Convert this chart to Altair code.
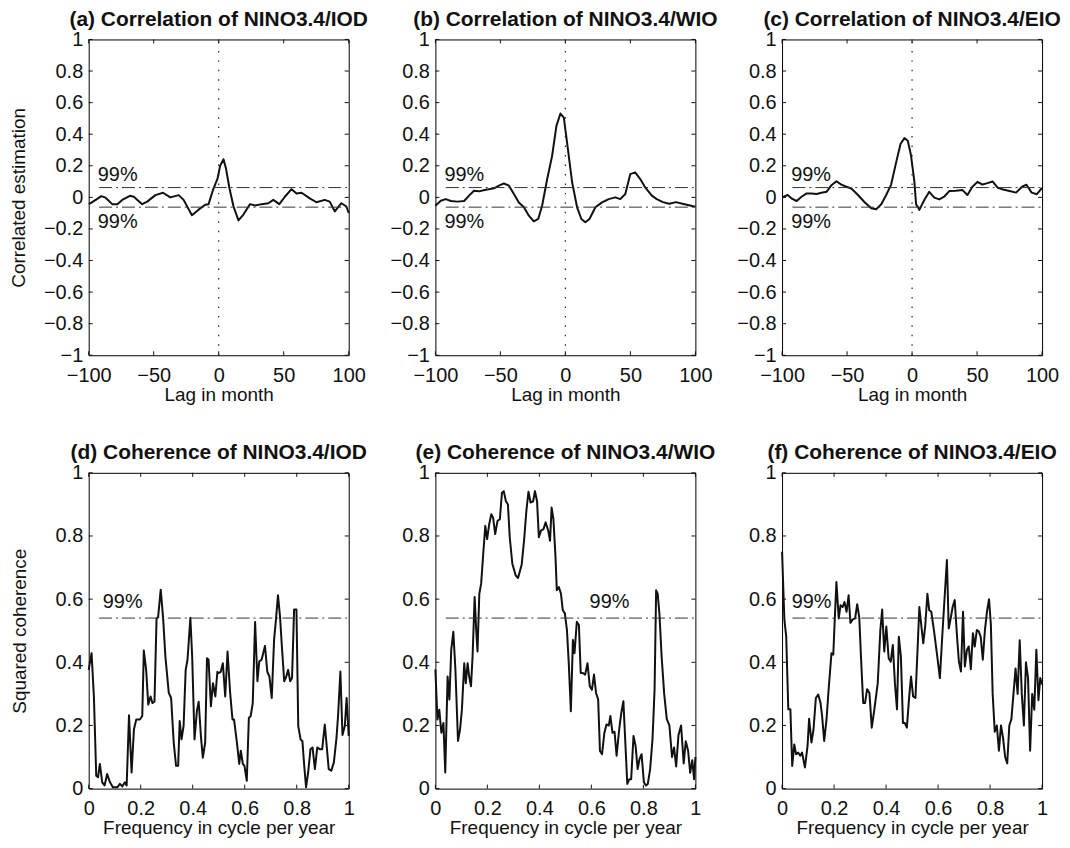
import altair as alt
import pandas as pd

# ---------------- data ----------------
lag_a = [-100, -98.5, -94.6, -90.3, -87, -81.9, -78, -74.2, -68.3, -65.3,
         -58.9, -55, -48.7, -42.8, -37.2, -30.8, -27, -20.6, -15.5, -10.4,
         -7.8, -4, -0.9, 1.1, 3.7, 5.7, 8.3, 11.4, 15.2, 19,
         24.1, 28, 33.1, 38.2, 42, 46.6, 50.9, 56, 59.9, 63.7,
         70.1, 75.2, 81.6, 85.4, 89.3, 94.4, 98.2, 100]
corr_a = [-0.04, -0.037, -0.016, 0.008, -0.002, -0.043, -0.043, -0.016, 0.01, 0.004,
          -0.043, -0.027, 0.014, 0.029, 0, 0.014, -0.016, -0.113, -0.078, -0.047,
          -0.043, 0.056, 0.118, 0.2, 0.241, 0.179, 0.056, -0.058, -0.146, -0.109,
          -0.043, -0.052, -0.043, -0.037, -0.016, -0.043, 0.004, 0.052, 0.025, 0.029,
          -0.006, -0.031, -0.016, -0.027, -0.089, -0.037, -0.058, -0.099]

lag_b = [-100, -95.8, -92, -88.1, -83, -77.9, -74.1, -70.3, -66.4, -61.3,
         -54.9, -51.1, -47.3, -43.4, -39.6, -35.8, -31.9, -28.1, -24.3, -20.9,
         -17.9, -14, -10.2, -6.9, -3.8, -1.2, 1.3, 5.2, 9, 12.3,
         15.4, 18.5, 23.1, 28.2, 33.3, 38.4, 42.2, 46.1, 49.9, 53.7,
         57.6, 61.4, 66.5, 70.3, 75, 80, 85, 90, 95, 100]
corr_b = [-0.053, -0.021, -0.011, -0.023, -0.027, -0.023, 0.011, 0.042, 0.038, 0.048,
          0.057, 0.074, 0.088, 0.074, 0.021, -0.032, -0.063, -0.116, -0.152, -0.137,
          -0.053, 0.116, 0.263, 0.453, 0.531, 0.505, 0.347, 0.095, -0.063, -0.137,
          -0.158, -0.137, -0.063, -0.032, -0.011, 0, -0.011, 0.021, 0.147, 0.158,
          0.116, 0.063, 0.011, -0.011, -0.03, -0.04, -0.03, -0.04, -0.05, -0.06]

lag_c = [-100, -95.7, -92.1, -88.8, -85, -81.1, -77.3, -73.5, -69.7, -65.8,
         -62, -58.2, -54.4, -50.5, -46.7, -41.6, -36.5, -31.4, -27.6, -23.7,
         -19.9, -16.1, -12.2, -8.9, -5.9, -3.3, -0.8, 1.8, 3.1, 5.6,
         9.4, 13.2, 17.1, 20.9, 24.7, 28.6, 33.7, 38.8, 42.6, 46.4,
         50.3, 54.1, 58, 62, 66, 70, 75, 80, 85, 88,
         92, 96, 100]
corr_c = [0.0, 0.015, -0.01, -0.023, 0.004, 0.025, 0.025, 0.021, 0.029, 0.035,
          0.077, 0.102, 0.081, 0.067, 0.056, 0.015, -0.031, -0.069, -0.075, -0.044,
          0.015, 0.081, 0.223, 0.338, 0.375, 0.358, 0.265, 0.098, -0.044, -0.079,
          -0.017, 0.035, -0.002, -0.013, 0.004, 0.04, 0.042, 0.046, 0.015, 0.067,
          0.098, 0.081, 0.09, 0.1, 0.06, 0.05, 0.04, 0.03, 0.07, 0.08,
          0.03, 0.02, 0.06]

freq_d = [0.0, 0.011, 0.020, 0.029, 0.036, 0.043, 0.052, 0.061, 0.071, 0.082,
          0.093, 0.110, 0.120, 0.129, 0.139, 0.146, 0.155, 0.165, 0.174, 0.183,
          0.197, 0.206, 0.212, 0.221, 0.229, 0.238, 0.245, 0.253, 0.261, 0.267,
          0.277, 0.286, 0.295, 0.308, 0.317, 0.327, 0.336, 0.344, 0.350, 0.357,
          0.365, 0.373, 0.380, 0.391, 0.398, 0.407, 0.416, 0.423, 0.432, 0.439,
          0.448, 0.455, 0.461, 0.470, 0.478, 0.487, 0.495, 0.499, 0.508, 0.516,
          0.525, 0.534, 0.544, 0.553, 0.559, 0.570, 0.579, 0.585, 0.593, 0.599,
          0.608, 0.616, 0.623, 0.631, 0.640, 0.649, 0.656, 0.665, 0.678, 0.687,
          0.695, 0.704, 0.713, 0.720, 0.728, 0.736, 0.743, 0.752, 0.760, 0.767,
          0.775, 0.782, 0.790, 0.799, 0.806, 0.815, 0.822, 0.829, 0.836, 0.844,
          0.853, 0.861, 0.870, 0.879, 0.889, 0.898, 0.908, 0.917, 0.923, 0.933,
          0.943, 0.953, 0.959, 0.968, 0.976, 0.985, 0.992, 1.0]
coh_d = [0.376, 0.429, 0.292, 0.041, 0.036, 0.078, 0.020, 0.010, 0.046, 0.020,
         0.004, 0.004, 0.015, 0.007, 0.020, 0.010, 0.232, 0.051, 0.188, 0.219,
         0.219, 0.230, 0.437, 0.376, 0.266, 0.292, 0.271, 0.275, 0.539, 0.543,
         0.630, 0.543, 0.418, 0.303, 0.287, 0.146, 0.072, 0.072, 0.214, 0.156,
         0.199, 0.376, 0.408, 0.541, 0.418, 0.156, 0.245, 0.275, 0.161, 0.098,
         0.146, 0.413, 0.408, 0.261, 0.334, 0.292, 0.37, 0.366, 0.37, 0.397,
         0.292, 0.434, 0.303, 0.219, 0.219, 0.146, 0.078, 0.12, 0.078, 0.072,
         0.025, 0.224, 0.230, 0.271, 0.528, 0.34, 0.403, 0.408, 0.452, 0.37,
         0.355, 0.287, 0.471, 0.534, 0.612, 0.543, 0.45, 0.34, 0.355, 0.376,
         0.34, 0.35, 0.567, 0.567, 0.198, 0.156, 0.150, 0.072, 0.004, 0.051,
         0.125, 0.130, 0.062, 0.13, 0.125, 0.125, 0.203, 0.12, 0.062, 0.057,
         0.083, 0.161, 0.23, 0.371, 0.17, 0.198, 0.287, 0.167]

freq_e = [0.0, 0.008, 0.015, 0.023, 0.031, 0.038, 0.047, 0.054, 0.061, 0.069,
          0.077, 0.087, 0.095, 0.102, 0.111, 0.117, 0.124, 0.130, 0.137, 0.143,
          0.151, 0.157, 0.162, 0.169, 0.176, 0.184, 0.192, 0.199, 0.207, 0.215,
          0.222, 0.230, 0.239, 0.248, 0.256, 0.263, 0.271, 0.279, 0.286, 0.296,
          0.309, 0.318, 0.332, 0.341, 0.350, 0.358, 0.366, 0.376, 0.383, 0.391,
          0.398, 0.406, 0.416, 0.424, 0.434, 0.441, 0.447, 0.454, 0.462, 0.467,
          0.475, 0.483, 0.490, 0.498, 0.506, 0.513, 0.521, 0.529, 0.535, 0.544,
          0.552, 0.559, 0.567, 0.576, 0.585, 0.594, 0.602, 0.610, 0.618, 0.626,
          0.633, 0.641, 0.650, 0.658, 0.667, 0.673, 0.681, 0.689, 0.697, 0.707,
          0.715, 0.723, 0.730, 0.738, 0.746, 0.753, 0.762, 0.770, 0.778, 0.785,
          0.793, 0.802, 0.810, 0.817, 0.826, 0.835, 0.843, 0.849, 0.855, 0.862,
          0.870, 0.880, 0.890, 0.900, 0.910, 0.918, 0.926, 0.935, 0.945, 0.955,
          0.963, 0.972, 0.980, 0.988, 0.995, 1.0]
coh_e = [0.377, 0.219, 0.25, 0.177, 0.208, 0.051, 0.355, 0.282, 0.439, 0.497,
         0.377, 0.151, 0.188, 0.25, 0.397, 0.334, 0.397, 0.355, 0.324, 0.418,
         0.607, 0.502, 0.434, 0.617, 0.649, 0.743, 0.832, 0.790, 0.837, 0.869,
         0.858, 0.806, 0.848, 0.853, 0.937, 0.942, 0.911, 0.90, 0.796, 0.712,
         0.675, 0.667, 0.71, 0.785, 0.88, 0.94, 0.906, 0.91, 0.942, 0.91,
         0.796, 0.817, 0.822, 0.843, 0.817, 0.785, 0.89, 0.853, 0.733, 0.628,
         0.638, 0.617, 0.565, 0.555, 0.502, 0.397, 0.245, 0.471, 0.429, 0.528,
         0.518, 0.366, 0.366, 0.361, 0.397, 0.324, 0.313, 0.361, 0.303, 0.282,
         0.119, 0.109, 0.177, 0.203, 0.2, 0.23, 0.177, 0.18, 0.104, 0.188,
         0.24, 0.277, 0.156, 0.015, 0.03, 0.03, 0.167, 0.135, 0.062, 0.093,
         0.109, 0.02, 0.01, 0.015, 0.062, 0.156, 0.313, 0.628, 0.617, 0.55,
         0.42, 0.30, 0.22, 0.2, 0.1, 0.13, 0.07, 0.17, 0.2, 0.08,
         0.15, 0.12, 0.05, 0.09, 0.03, 0.1]

freq_f = [0.0, 0.009, 0.016, 0.024, 0.032, 0.039, 0.047, 0.054, 0.062, 0.070,
          0.077, 0.088, 0.098, 0.104, 0.113, 0.121, 0.130, 0.139, 0.148, 0.154,
          0.162, 0.171, 0.179, 0.190, 0.197, 0.202, 0.209, 0.218, 0.225, 0.233,
          0.240, 0.248, 0.256, 0.263, 0.272, 0.281, 0.289, 0.297, 0.304, 0.312,
          0.319, 0.327, 0.336, 0.345, 0.355, 0.368, 0.378, 0.385, 0.393, 0.401,
          0.410, 0.418, 0.426, 0.434, 0.442, 0.449, 0.457, 0.465, 0.472, 0.480,
          0.489, 0.496, 0.504, 0.513, 0.521, 0.528, 0.536, 0.543, 0.551, 0.559,
          0.566, 0.574, 0.584, 0.597, 0.607, 0.616, 0.626, 0.634, 0.641, 0.649,
          0.656, 0.664, 0.673, 0.680, 0.688, 0.696, 0.703, 0.711, 0.718, 0.726,
          0.734, 0.741, 0.749, 0.757, 0.764, 0.772, 0.780, 0.788, 0.796, 0.803,
          0.810, 0.818, 0.826, 0.834, 0.842, 0.850, 0.858, 0.866, 0.874, 0.882,
          0.890, 0.898, 0.906, 0.914, 0.922, 0.930, 0.938, 0.946, 0.954, 0.962,
          0.970, 0.978, 0.986, 0.993, 1.0]
coh_f = [0.75, 0.534, 0.481, 0.251, 0.251, 0.072, 0.140, 0.109, 0.114, 0.104,
         0.114, 0.067, 0.135, 0.221, 0.146, 0.188, 0.287, 0.298, 0.271, 0.23,
         0.151, 0.219, 0.313, 0.429, 0.424, 0.523, 0.654, 0.539, 0.581, 0.575,
         0.591, 0.560, 0.612, 0.525, 0.536, 0.539, 0.584, 0.541, 0.408, 0.271,
         0.271, 0.315, 0.303, 0.193, 0.251, 0.334, 0.502, 0.567, 0.434, 0.513,
         0.413, 0.402, 0.455, 0.334, 0.251, 0.481, 0.418, 0.208, 0.208, 0.193,
         0.292, 0.355, 0.292, 0.287, 0.439, 0.575, 0.513, 0.46, 0.518, 0.617,
         0.565, 0.56, 0.502, 0.418, 0.35, 0.481, 0.617, 0.724, 0.507, 0.541,
         0.575, 0.597, 0.481, 0.403, 0.371, 0.56, 0.387, 0.439, 0.45, 0.378,
         0.492, 0.45, 0.502, 0.497, 0.481, 0.408, 0.5, 0.56, 0.6, 0.52,
         0.3, 0.18, 0.2, 0.12, 0.2, 0.16, 0.1, 0.08, 0.2, 0.22,
         0.3, 0.38, 0.3, 0.47, 0.3, 0.2, 0.4, 0.35, 0.12, 0.3,
         0.25, 0.44, 0.28, 0.35, 0.33]

lag_ticks = [-100, -50, 0, 50, 100]
corr_ticks = [-1, -0.8, -0.6, -0.4, -0.2, 0, 0.2, 0.4, 0.6, 0.8, 1]
freq_ticks = [0, 0.2, 0.4, 0.6, 0.8, 1]
coh_ticks = [0, 0.2, 0.4, 0.6, 0.8, 1]

corr_sig = [0.062, -0.062]       # 99% significance of correlation
corr_sig_span = [-92, 100]
coh_sig = [0.54]                 # 99% significance of squared coherence
coh_sig_span = [0.04, 1]

corr_label_y = [0.14, -0.155]
corr_label_x = [-93, -93]
coh_label_x = {"d": 0.054, "e": 0.593, "f": 0.037}
coh_label_y = 0.59

titles = {
    "a": "(a) Correlation of NINO3.4/IOD",
    "b": "(b) Correlation of NINO3.4/WIO",
    "c": "(c) Correlation of NINO3.4/EIO",
    "d": "(d) Coherence of NINO3.4/IOD",
    "e": "(e) Coherence of NINO3.4/WIO",
    "f": "(f) Coherence of NINO3.4/EIO",
}

# ---------------- styling ----------------
W, H = 261, 317
FONT = "Liberation Sans"
INK = "#111111"
TICK = 4


def panel(xv, yv, xdom, xticks, ydom, yticks, title, xtitle, ytitle, ytitle_pad,
          sig_vals, sig_span, lab_x, lab_y, vline):
    xs = alt.Scale(domain=xdom, nice=False, zero=False)
    ys = alt.Scale(domain=ydom, nice=False, zero=False)
    xaxis = alt.Axis(values=xticks, format="~r", title=xtitle, ticks=False,
                     domain=False, grid=False, labelFlush=False, labelOverlap=False,
                     labelPadding=10, titlePadding=0, labelFont=FONT, labelFontSize=20,
                     labelColor=INK, titleFont=FONT, titleFontSize=19,
                     titleFontWeight="normal", titleColor=INK)
    yaxis = alt.Axis(values=yticks, format="~r", title=ytitle, ticks=False,
                     domain=False, grid=False, labelFlush=False, labelOverlap=False,
                     labelPadding=6, titlePadding=ytitle_pad, labelFont=FONT,
                     labelFontSize=20, labelColor=INK, titleFont=FONT, titleFontSize=19,
                     titleFontWeight="normal", titleColor=INK)
    X = dict(scale=xs, axis=xaxis)
    Y = dict(scale=ys, axis=yaxis)

    line = alt.Chart(pd.DataFrame({"x": xv, "y": yv})).mark_line(
        color=INK, strokeWidth=2, strokeJoin="round"
    ).encode(x=alt.X("x:Q", **X), y=alt.Y("y:Q", **Y))

    sig_df = pd.DataFrame({"x": [sig_span[0]] * len(sig_vals),
                           "x2": [sig_span[1]] * len(sig_vals), "y": sig_vals})
    sig = alt.Chart(sig_df).mark_rule(color="#333333", strokeWidth=1,
                                      strokeDash=[13, 4, 2, 4]).encode(
        x=alt.X("x:Q", **X), x2="x2:Q", y=alt.Y("y:Q", **Y))

    lab_df = pd.DataFrame({"x": lab_x, "y": lab_y, "t": ["99%"] * len(lab_x)})
    labels = alt.Chart(lab_df).mark_text(align="left", baseline="middle", font=FONT,
                                         fontSize=20, color=INK).encode(
        x=alt.X("x:Q", **X), y=alt.Y("y:Q", **Y), text="t:N")

    xt = pd.DataFrame({"x": xticks})
    yt = pd.DataFrame({"y": yticks})
    tick_b = alt.Chart(xt).mark_rule(color=INK, strokeWidth=1).encode(
        x=alt.X("x:Q", **X), y=alt.value(H), y2=alt.value(H - TICK))
    tick_t = alt.Chart(xt).mark_rule(color=INK, strokeWidth=1).encode(
        x=alt.X("x:Q", **X), y=alt.value(0), y2=alt.value(TICK))
    tick_l = alt.Chart(yt).mark_rule(color=INK, strokeWidth=1).encode(
        y=alt.Y("y:Q", **Y), x=alt.value(0), x2=alt.value(TICK))
    tick_r = alt.Chart(yt).mark_rule(color=INK, strokeWidth=1).encode(
        y=alt.Y("y:Q", **Y), x=alt.value(W), x2=alt.value(W - TICK))

    layers = [line, sig]
    if vline:
        vdf = pd.DataFrame({"x": [0], "y": [ydom[0]], "y2": [ydom[1]]})
        layers.append(alt.Chart(vdf).mark_rule(color="#222222", strokeWidth=1.2,
                                               strokeDash=[1.5, 8]).encode(
            x=alt.X("x:Q", **X), y=alt.Y("y:Q", **Y), y2="y2:Q"))
    layers += [tick_b, tick_t, tick_l, tick_r, labels]

    return alt.layer(*layers).properties(
        width=W, height=H,
        title=alt.TitleParams(text=title, font=FONT, fontSize=21, fontWeight="bold",
                              color=INK, anchor="middle", frame="group", offset=0),
    )


top_args = dict(xdom=[-100, 100], xticks=lag_ticks, ydom=[-1, 1], yticks=corr_ticks,
                xtitle="Lag in month", sig_vals=corr_sig, sig_span=corr_sig_span,
                lab_x=corr_label_x, lab_y=corr_label_y, vline=True)
bot_args = dict(xdom=[0, 1], xticks=freq_ticks, ydom=[0, 1], yticks=coh_ticks,
                xtitle="Frequency in cycle per year", sig_vals=coh_sig,
                sig_span=coh_sig_span, vline=False)

pa = panel(lag_a, corr_a, title=titles["a"], ytitle="Correlated estimation",
           ytitle_pad=15, **top_args)
pb = panel(lag_b, corr_b, title=titles["b"], ytitle="", ytitle_pad=15, **top_args)
pc = panel(lag_c, corr_c, title=titles["c"], ytitle="", ytitle_pad=15, **top_args)
pd_ = panel(freq_d, coh_d, title=titles["d"], ytitle="Squared coherence", ytitle_pad=26,
            lab_x=[coh_label_x["d"]], lab_y=[coh_label_y], **bot_args)
pe = panel(freq_e, coh_e, title=titles["e"], ytitle="", ytitle_pad=26,
           lab_x=[coh_label_x["e"]], lab_y=[coh_label_y], **bot_args)
pf = panel(freq_f, coh_f, title=titles["f"], ytitle="", ytitle_pad=26,
           lab_x=[coh_label_x["f"]], lab_y=[coh_label_y], **bot_args)

chart = alt.concat(pa, pb, pc, pd_, pe, pf, columns=3,
                   spacing={"row": 118, "column": 87}, bounds="flush").properties(
    padding={"left": 1, "top": -2, "right": 0, "bottom": 0},
    background="white",
).configure_view(stroke="black", strokeWidth=1)

chart.save("out.html", embed_options={"renderer": "svg", "actions": False})
